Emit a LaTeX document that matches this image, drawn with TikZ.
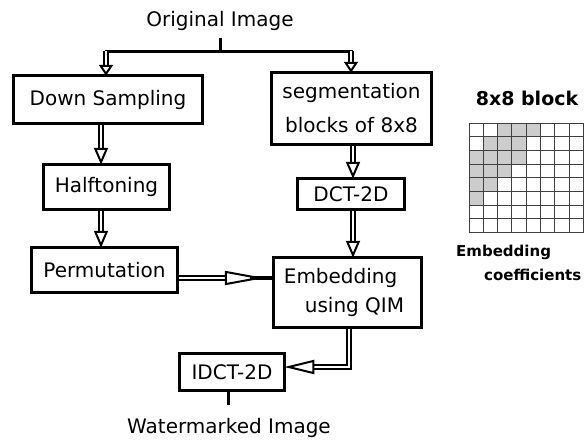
\documentclass[tikz,border=0pt]{standalone}
\usepackage{fontspec}
\setmainfont{DejaVu Sans}
\usetikzlibrary{arrows.meta}
\begin{document}
\begin{tikzpicture}[x=1pt,y=-1pt,
  txt/.style={font=\fontsize{20}{24}\selectfont, inner sep=0pt},
  box/.style={draw=black, line width=3.5pt, inner sep=0pt, font=\fontsize{20}{24}\selectfont, align=center},
  solidline/.style={line width=3pt},
  dbl/.style={line width=2pt, double=white, double distance=2.6pt, shorten >=-2pt,
    -{Triangle[open, length=#1, width=14pt, line width=2pt, fill=white]}},
  dbl/.default=17pt,
  cellgrey/.style={fill=black!20},
  gridline/.style={draw=black!75, line width=0.9pt},
  boldsmall/.style={font=\fontsize{15}{18}\selectfont\bfseries, inner sep=0pt, anchor=base west}
]
\useasboundingbox (0,0) rectangle (584,442);
\fill[white] (0,0) rectangle (584,442);

% nodes
\node[txt, anchor=base] (orig) at (220,26) {Original Image};
\node[box, minimum width=189pt, minimum height=48pt] (down) at (108,99.5) {Down Sampling};
\node[box, minimum width=126pt, minimum height=45pt] (half) at (106.5,187) {Halftoning};
\node[box, minimum width=146pt, minimum height=45pt] (perm) at (104.5,270) {Permutation};
\node[box, minimum width=160pt, minimum height=72pt, font=\fontsize{20}{34}\selectfont] (seg) at (351.5,108.5) {segmentation\\blocks of 8x8};
\node[box, minimum width=107pt, minimum height=31pt] (dct) at (351,194) {DCT-2D};
\node[box, minimum width=148pt, minimum height=70pt, align=left, font=\fontsize{20}{29}\selectfont] (emb) at (347.5,292.5) {Embedding\\\rule{21pt}{0pt}using QIM\rule{7pt}{0pt}};
\node[box, minimum width=105pt, minimum height=37pt] (idct) at (232,372) {IDCT-2D};
\node[txt, anchor=base] (wm) at (229,433) {Watermarked Image};

% helper coordinates
\coordinate (j) at (220,51);
\coordinate (cL) at (106,51);
\coordinate (cR) at (351,51);
\coordinate (ax) at (101,0);
\coordinate (rx) at (353,0);
\coordinate (ay) at (0,278);
\coordinate (bend) at (349,367);
\coordinate (wx) at (228,0);

% connectors
\draw[solidline, shorten <=8pt] (orig.south) -- (j);
\draw[solidline, line cap=rect] (cL) -- (cR);
\draw[dbl=11pt] (cL) -- (down.north -| cL);
\draw[dbl=11pt] (cR) -- (seg.north -| cR);
\draw[dbl] (down.south -| ax) -- (half.north -| ax);
\draw[dbl] (half.south -| ax) -- (perm.north -| ax);
\draw[dbl] (seg.south -| rx) -- (dct.north -| rx);
\draw[dbl] (dct.south -| rx) -- (emb.north -| rx);
\draw[dbl=40pt, shorten >=7pt] (perm.east |- ay) -- (emb.west |- ay);
\draw[line width=3.5pt] ([xshift=-22pt]emb.west |- ay) -- (emb.west |- ay);
\draw[dbl=30pt] (emb.south -| bend) |- (idct.east |- bend);
\draw[solidline, shorten >=13pt] (idct.south -| wx) -- (wm.north -| wx);

% 8x8 block
\node[font=\fontsize{19}{22}\selectfont\bfseries, inner sep=0pt, anchor=base] (blk) at (527,105) {8x8 block};
\foreach \r/\c in {0/2,0/3,0/4,1/1,1/2,1/3,2/0,2/1,2/2,2/3,3/0,3/1,3/2,4/0,4/1,5/0}
  \fill[cellgrey] ({469+\c*14.3},{123+\r*13.7}) rectangle ++(14.3,13.7);
\foreach \i in {0,...,8} {
  \draw[gridline] ({469+\i*14.3},123) -- ++(0,109.6);
  \draw[gridline] (469,{123+\i*13.7}) -- ++(114.4,0);
}
\node[boldsmall] (e1) at (456,256.5) {Embedding};
\node[boldsmall] (e2) at (484,280) {coefficients};
\end{tikzpicture}
\end{document}
